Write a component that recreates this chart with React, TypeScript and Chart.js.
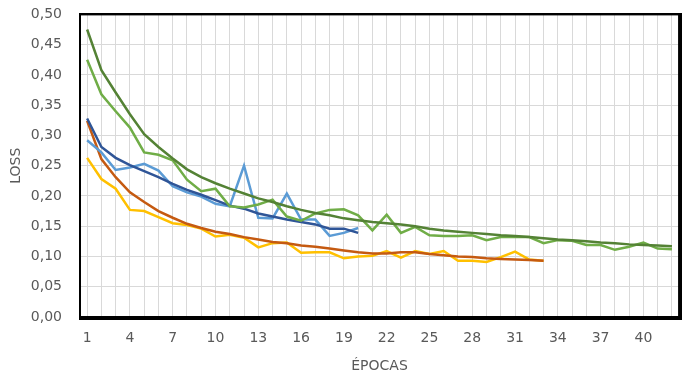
import React, { useEffect, useRef } from "react";
import { Chart, registerables } from "chart.js";

Chart.register(...registerables);

const epochs: string[] = Array.from({ length: 42 }, (_, i) => String(i + 1));

const darkGreen = [0.475, 0.408, 0.371, 0.335, 0.302, 0.281, 0.262, 0.244, 0.231, 0.221, 0.212, 0.204, 0.196, 0.190, 0.183, 0.177, 0.172, 0.168, 0.163, 0.160, 0.157, 0.155, 0.153, 0.150, 0.146, 0.143, 0.141, 0.139, 0.137, 0.135, 0.134, 0.132, 0.130, 0.128, 0.127, 0.125, 0.123, 0.122, 0.120, 0.119, 0.118, 0.117];
const lightGreen = [0.425, 0.368, 0.340, 0.313, 0.272, 0.268, 0.259, 0.227, 0.208, 0.212, 0.183, 0.181, 0.186, 0.194, 0.166, 0.159, 0.171, 0.177, 0.178, 0.168, 0.143, 0.169, 0.139, 0.149, 0.135, 0.134, 0.134, 0.135, 0.127, 0.132, 0.132, 0.132, 0.122, 0.127, 0.126, 0.119, 0.119, 0.111, 0.116, 0.123, 0.113, 0.112];
const darkBlue = [0.328, 0.281, 0.263, 0.251, 0.241, 0.231, 0.220, 0.210, 0.202, 0.193, 0.184, 0.179, 0.171, 0.166, 0.161, 0.157, 0.153, 0.146, 0.146, 0.139];
const lightBlue = [0.292, 0.272, 0.243, 0.247, 0.253, 0.242, 0.216, 0.206, 0.199, 0.187, 0.183, 0.250, 0.164, 0.163, 0.204, 0.161, 0.161, 0.134, 0.139, 0.147];
const orange = [0.324, 0.261, 0.231, 0.206, 0.190, 0.175, 0.164, 0.154, 0.147, 0.141, 0.137, 0.132, 0.128, 0.124, 0.122, 0.118, 0.116, 0.113, 0.110, 0.107, 0.105, 0.105, 0.107, 0.107, 0.104, 0.102, 0.100, 0.099, 0.097, 0.096, 0.095, 0.094, 0.093];
const yellow = [0.263, 0.228, 0.212, 0.177, 0.175, 0.165, 0.155, 0.152, 0.146, 0.133, 0.136, 0.131, 0.115, 0.122, 0.123, 0.106, 0.107, 0.107, 0.097, 0.100, 0.101, 0.109, 0.098, 0.109, 0.104, 0.109, 0.093, 0.093, 0.091, 0.099, 0.108, 0.095, 0.093];

const FONT = "'DejaVu Sans', sans-serif";
const TEXT = "#595959";
const GRID = "#d9d9d9";
const FRAME = "#000000";
const SHIFT = 12;

function line(label: string, data: number[], color: string) {
  return {
    label,
    data,
    borderColor: color,
    backgroundColor: color,
    borderWidth: 2.5,
    pointRadius: 0,
    tension: 0,
    fill: false,
  };
}

export default function App() {
  const ref = useRef<HTMLCanvasElement>(null);
  const boxRef = useRef<HTMLDivElement>(null);
  useEffect(() => {
    const canvas = ref.current;
    if (!canvas) return;
    const syncFrame = (c: any) => {
      const a = c.chartArea;
      const el = boxRef.current;
      if (!a || !el) return;
      el.style.left = a.left - 1 + "px";
      el.style.top = a.top - 1 - SHIFT + "px";
      el.style.width = a.right - a.left + "px";
      el.style.height = a.bottom - a.top + "px";
      el.style.display = "block";
    };
    const frame = {
      id: "frameBox",
      afterDraw(c: any) {
        const g = c.ctx;
        const a = c.chartArea;
        g.save();
        g.strokeStyle = FRAME;
        g.lineWidth = 2;
        g.strokeRect(a.left, a.top, a.right - a.left, a.bottom - a.top);
        g.restore();
        syncFrame(c);
      },
    };
    const chart = new Chart(canvas, {
      type: "line",
      data: {
        labels: epochs,
        datasets: [
          line("Trend verde", darkGreen, "#548235"),
          line("Verde", lightGreen, "#70AD47"),
          line("Trend azul", darkBlue, "#2F5597"),
          line("Azul", lightBlue, "#5B9BD5"),
          line("Trend laranja", orange, "#C55A11"),
          line("Amarelo", yellow, "#FFC000"),
        ],
      },
      options: {
        responsive: false,
        maintainAspectRatio: false,
        animation: false,
        layout: { padding: { left: 0, right: 5, top: 0, bottom: 0 } },
        plugins: { legend: { display: false }, tooltip: { enabled: false } },
        scales: {
          x: {
            offset: true,
            grid: { color: GRID, lineWidth: 1, offset: false, drawTicks: false },
            border: { display: true, color: FRAME, width: 2 },
            ticks: {
              autoSkip: false,
              maxRotation: 0,
              padding: 13,
              color: TEXT,
              font: { family: FONT, size: 14 },
              callback: (_v: any, i: number) => (i % 3 === 0 ? epochs[i] : ""),
            },
            title: { display: true, text: "ÉPOCAS", color: TEXT, font: { family: FONT, size: 14 }, padding: { top: 0, bottom: 0 } },
            afterFit: (s: any) => { s.height = 58; },
          },
          y: {
            min: 0,
            max: 0.5,
            grid: { color: GRID, lineWidth: 1, drawTicks: false },
            border: { display: true, color: FRAME, width: 2 },
            ticks: {
              stepSize: 0.05,
              padding: 18,
              color: TEXT,
              font: { family: FONT, size: 14 },
              callback: (v: any) => Number(v).toFixed(2).replace(".", ","),
            },
            title: { display: true, text: "LOSS", color: TEXT, font: { family: FONT, size: 14 }, padding: { top: 8, bottom: 0 } },
            afterFit: (s: any) => { s.width = 80; },
          },
        },
      },
      plugins: [frame],
    });
    syncFrame(chart);
    return () => chart.destroy();
  }, []);
  return (
    <div style={{ position: "fixed", left: 0, top: 0, width: 685, height: 375, background: "#fff" }}>
      <canvas ref={ref} width={685} height={375 + SHIFT} style={{ display: "block", marginTop: -SHIFT, width: "685px", height: 375 + SHIFT + "px" }} />
      <div ref={boxRef} style={{ position: "absolute", display: "none", border: `2px solid ${FRAME}`, boxSizing: "content-box", pointerEvents: "none" }} />
    </div>
  );
}
